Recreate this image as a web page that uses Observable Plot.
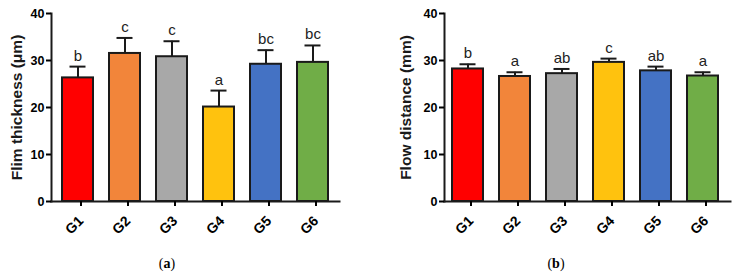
<!DOCTYPE html>
<html>
<head>
<meta charset="utf-8">
<script src="https://cdn.jsdelivr.net/npm/d3@7"></script>
<script src="https://cdn.jsdelivr.net/npm/@observablehq/plot@0.6"></script>
<style>
  html, body { margin: 0; padding: 0; background: #fff; }
  #wrap { position: relative; width: 734px; height: 276px; overflow: hidden; font-family: "Liberation Sans", Arial, sans-serif; }
  .panel { position: absolute; top: 0; width: 367px; }
  .cap { position: absolute; top: 256px; font-family: "Liberation Serif", "DejaVu Serif", serif; font-size: 14px; color: #000; transform: translateX(-50%); }
</style>
</head>
<body>
<div id="wrap">
  <div class="panel" id="pa" style="left:0px"></div>
  <div class="panel" id="pb" style="left:367px"></div>
  <div class="cap" style="left:167px">(<b>a</b>)</div>
  <div class="cap" style="left:556px">(<b>b</b>)</div>
</div>
<script>
const groups = ["G1", "G2", "G3", "G4", "G5", "G6"];
const colors = ["#ff0000", "#f2853a", "#a8a8a8", "#ffc20e", "#4472c4", "#70ad47"];
const yTicks = [0, 10, 20, 30, 40];

const thickMean = [26.3, 31.5, 30.8, 20.1, 29.2, 29.6];
const thickSD = [2.4, 3.3, 3.3, 3.5, 3.0, 3.6];
const thickLetters = ["b", "c", "c", "a", "bc", "bc"];
const thickLabel = "Flim thickness (\u03BCm)";

const flowMean = [28.2, 26.6, 27.2, 29.6, 27.8, 26.7];
const flowSD = [1.0, 0.9, 1.0, 0.8, 0.9, 0.8];
const flowLetters = ["b", "a", "ab", "c", "ab", "a"];
const flowLabel = "Flow distance (mm)";

function panel({mean, sd, letters, label, marginLeft, marginRight, xRange, labelDx}) {
  const data = groups.map((g, i) => ({g, mean: mean[i], top: mean[i] + sd[i], letter: letters[i], color: colors[i]}));
  return Plot.plot({
    width: 367,
    height: 240,
    marginLeft,
    marginRight,
    marginTop: 13,
    marginBottom: 39,
    style: {fontFamily: "'Liberation Sans', Arial, sans-serif", color: "#000", background: "#fff"},
    x: {type: "band", domain: groups, range: xRange, paddingInner: 0.33, paddingOuter: 0},
    y: {domain: [0, 40]},
    marks: [
      Plot.ruleX(data, {x: "g", y1: "mean", y2: "top", stroke: "#1a1a1a", strokeWidth: 2}),
      Plot.tickY(data, {x: "g", y: "top", stroke: "#1a1a1a", strokeWidth: 2, insetLeft: 7.5, insetRight: 7.5}),
      Plot.barY(data, {x: "g", y: "mean", fill: "color", stroke: "#1a1a1a", strokeWidth: 2}),
      Plot.text(data, {x: "g", y: "top", text: "letter", dy: -6, lineAnchor: "bottom", fontSize: 15, fill: "#222"}),
      Plot.frame({anchor: "left", stroke: "#1a1a1a", strokeWidth: 2}),
      Plot.frame({anchor: "bottom", stroke: "#1a1a1a", strokeWidth: 2}),
      Plot.axisY({ticks: yTicks, tickSize: 5, tickPadding: 2, fontSize: 12.5, fontWeight: "bold", label: null, strokeWidth: 2}),
      Plot.axisX({tickSize: 5, tickPadding: 12, tickRotate: -45, dx: 3, fontSize: 14, fontWeight: "bold", label: null, strokeWidth: 2}),
      Plot.text([label], {frameAnchor: "left", textAnchor: "middle", rotate: -90, dx: labelDx, fontSize: 15.5, fontWeight: "bold", fill: "#1a1a1a"})
    ]
  });
}

document.getElementById("pa").append(panel({
  mean: thickMean, sd: thickSD, letters: thickLetters, label: thickLabel,
  marginLeft: 51, marginRight: 28, xRange: [61, 330], labelDx: -34
}));
document.getElementById("pb").append(panel({
  mean: flowMean, sd: flowSD, letters: flowLetters, label: flowLabel,
  marginLeft: 77, marginRight: 4, xRange: [84, 353], labelDx: -38
}));
</script>
</body>
</html>
